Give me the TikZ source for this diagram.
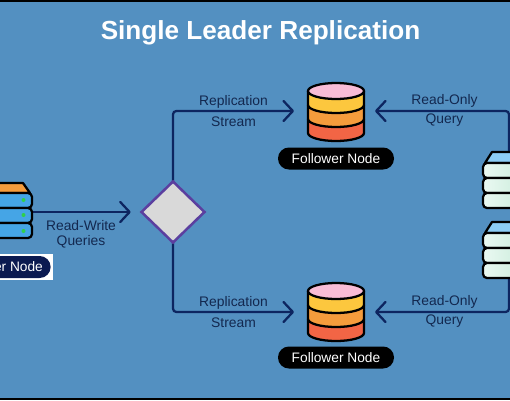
\documentclass[tikz,border=0pt]{standalone}
\usepackage{fontspec}
\setmainfont{Liberation Sans}
\usetikzlibrary{arrows.meta,shapes.geometric}
\definecolor{bgblue}{HTML}{5390C1}
\definecolor{navy}{HTML}{0D2560}
\definecolor{labelc}{HTML}{13284F}
\definecolor{pinkc}{HTML}{F9BCD6}
\definecolor{yellowc}{HTML}{FCC73E}
\definecolor{orangec}{HTML}{F59C3C}
\definecolor{redc}{HTML}{F26545}
\definecolor{skyc}{HTML}{8CCDF5}
\definecolor{mintl}{HTML}{EAF9F2}
\definecolor{mintr}{HTML}{BCE6D0}
\definecolor{gatefill}{HTML}{D9D9D9}
\definecolor{gateedge}{HTML}{5B3F9F}
\definecolor{rowblue}{HTML}{45A5E6}
\definecolor{pillnavy}{HTML}{0B1A50}
\definecolor{ledc}{HTML}{2FD04A}
\tikzset{
  x=0.75pt,y=-0.75pt,
  conn/.style={draw=navy,line width=1.7pt,rounded corners=2.5pt,line cap=round,
    -{Straight Barb[length=7pt,width=15pt,line width=1.7pt,round]}},
  box/.style={inner sep=0pt,outer sep=0pt,draw=none},
  lbl/.style={text=labelc,font=\fontsize{10.4pt}{12pt}\selectfont,inner sep=0pt},
  pill/.style={fill=black,rounded corners=8.2pt,minimum width=87pt,minimum height=16.5pt,inner sep=0pt,
    text=white,font=\fontsize{10.3pt}{12pt}\selectfont},
  rim/.style={draw=black,line width=1.7pt,line join=round},
}
\newcommand{\dbstack}[1]{%
  \begin{scope}[shift={(0,#1)}]
    \path[fill=redc] (308,32) -- (308,50) arc[x radius=28,y radius=8,start angle=180,end angle=0] -- (364,32) -- cycle;
    \path[fill=orangec] (308,18) -- (308,36) arc[x radius=28,y radius=8,start angle=180,end angle=0] -- (364,18) -- cycle;
    \path[fill=yellowc] (308,8) -- (308,22) arc[x radius=28,y radius=8,start angle=180,end angle=0] -- (364,8) -- cycle;
    \draw[rim] (308,22) arc[x radius=28,y radius=8,start angle=180,end angle=0];
    \draw[rim] (308,36) arc[x radius=28,y radius=8,start angle=180,end angle=0];
    \draw[rim] (308,8) -- (308,50) arc[x radius=28,y radius=8,start angle=180,end angle=0] -- (364,8);
    \draw[rim,fill=pinkc] (336,8) ellipse[x radius=28,y radius=8];
  \end{scope}}
\newcommand{\replica}[1]{%
  \begin{scope}[shift={(0,#1)}]
    \draw[rim,fill=skyc] (485,11) -- (492,0) -- (530,0) -- (530,11) -- cycle;
    \foreach \r in {11,26,41}{
      \path[rim,rounded corners=3pt,left color=mintl,right color=mintr]
        (483,\r) rectangle (545,\r+15);
    }
  \end{scope}}
\begin{document}
\begin{tikzpicture}
\useasboundingbox (0,0) rectangle (510,400);
\clip (0,0) rectangle (510,400);
\fill[black] (0,0) rectangle (510,400);
\fill[bgblue] (0,2) rectangle (510,398);

\node[text=white,inner sep=0pt,font=\fontsize{19.6pt}{23pt}\selectfont\bfseries] (title) at (260.5,32.5) {Single Leader Replication};

% invisible frames for the drawn objects
\node[box,minimum width=32pt,minimum height=40.5pt] (leader) at (10.5,210) {};
\node[box,minimum width=42pt,minimum height=43.5pt] (f1) at (336,112) {};
\node[box,minimum width=42pt,minimum height=43.5pt] (f2) at (336,312) {};
\node[box,minimum width=39pt,minimum height=42pt] (r1) at (509,180) {};
\node[box,minimum width=39pt,minimum height=42pt] (r2) at (509,250) {};
\node[shape=diamond,draw=none,inner sep=0pt,minimum width=48pt,minimum height=46.5pt] (gate) at (173,212) {};

% connectors
\draw[conn,shorten >=7.5pt] (leader.east |- gate.west) -- (gate.west);
\draw[conn] (gate.north) |- ([xshift=-10.5pt]f1.west |- 0,111);
\draw[conn] (gate.south) |- ([xshift=-10.5pt]f2.west |- 0,312);
\draw[conn] (r1.north) |- ([xshift=8.25pt]f1.east |- 0,111);
\draw[conn] (r2.south) |- ([xshift=8.25pt]f2.east |- 0,312);
\node[shape=diamond,draw=gateedge,line width=1.9pt,fill=gatefill,inner sep=0pt,minimum width=48pt,minimum height=46.5pt] at (gate) {};

% leader server
\draw[rim,fill=orangec] (-6,193) -- (-6,183) -- (23,183) -- (30,193) -- cycle;
\foreach \r/\d in {193/200,208/215,223/231}{
  \draw[rim,fill=rowblue,rounded corners=3pt] (-12,\r) rectangle (32,\r+15);
  \fill[ledc] (23.5,\d) circle[radius=2];
}

% followers and replicas
\dbstack{83}
\dbstack{283}
\replica{152}
\replica{222}

% pills
\node[pill] (p1) at (336,158.5) {Follower Node};
\node[pill] (p2) at (336,357.5) {Follower Node};
\fill[white] (-5,254) rectangle (52.5,280);
\node[pill,fill=pillnavy,minimum width=78pt] (p0) at (-1.4,267) {Follower Node};

% labels
\node[lbl] (t1) at (233.5,102) {Replication};
\node[lbl] (t2) at (233.5,121.5) {Stream};
\node[lbl] (t3) at (233.5,303) {Replication};
\node[lbl] (t4) at (233.5,322.5) {Stream};
\node[lbl] (t5) at (444.5,101) {Read-Only};
\node[lbl] (t6) at (444.5,120.5) {Query};
\node[lbl] (t7) at (444.5,302) {Read-Only};
\node[lbl] (t8) at (444.5,321.5) {Query};
\node[lbl] (t9) at (81,226) {Read-Write};
\node[lbl] (t10) at (81,241.5) {Queries};
\end{tikzpicture}
\end{document}
